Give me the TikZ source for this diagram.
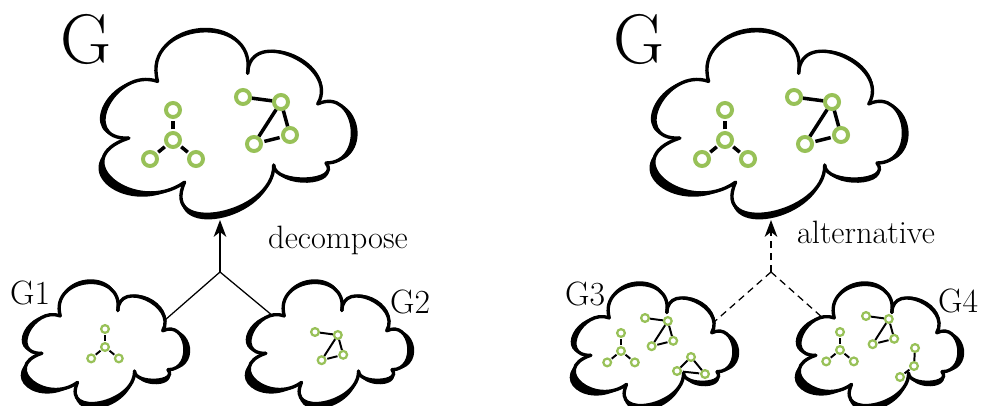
\documentclass[tikz,border=0pt]{standalone}
\usepackage{fontspec}
\usetikzlibrary{arrows.meta,calc}

\definecolor{leaf}{RGB}{152,193,88}

\tikzset{
    vert/.style={circle, draw=leaf, fill=white, line width=2.8pt, minimum size=10pt, inner sep=0pt},
    link/.style={line width=2.5pt, shorten <=1.2pt, shorten >=1.2pt},
    tiny/.style={vert/.append style={line width=1.6pt, minimum size=5.5pt},
                 link/.append style={line width=1.4pt, shorten <=0.6pt, shorten >=0.6pt}},
    cloudline/.style={line width=2.4pt, line cap=round},
    conn/.style={line width=0.9pt},
    small/.style={xscale=0.64, yscale=0.66},
    pics/star/.style={code={
        \node[vert] (-c) at (0,0) {};
        \node[vert] (-t) at (0,-30) {};
        \node[vert] (-l) at (-23,19) {};
        \node[vert] (-r) at (23,19) {};
        \foreach \v in {t,l,r} \draw[link] (-c) -- (-\v);
    }},
    pics/kite/.style={code={
        \node[vert] (-a) at (0,0) {};
        \node[vert] (-b) at (38,5) {};
        \node[vert] (-c) at (47,38) {};
        \node[vert] (-d) at (11,47) {};
        \draw[link] (-a) -- (-b) (-b) -- (-c) (-b) -- (-d) (-c) -- (-d);
    }}
}

% #1 name, #2 centre, #3 size options, #4 brush weight
\newcommand{\drawcloud}[4]{%
    \begin{scope}[shift={#2}, #3]
        \foreach \a/\p/\q/\b/\s in {
            {-41.4,61.2}/{-67,116.2}/{48.9,94}/{47.7,44.1}/{0,7},
            {47.7,44.1}/{48.1,64.4}/{116.1,61.6}/{100,42}/{2,5},
            {100,42}/{141.4,42.3}/{130.7,-34.6}/{91.8,-17.1}/{7,2},
            {91.8,-17.1}/{114.7,-56}/{23.5,-95.8}/{21.6,-47.7}/{3,-2},
            {21.6,-47.7}/{31.6,-110.7}/{-85.4,-100.2}/{-68.4,-39.6}/{0,-4},
            {-68.4,-39.6}/{-111,-54.4}/{-148.5,19.3}/{-97.2,17.1}/{-6,0},
            {-97.2,17.1}/{-162.5,38.3}/{-90,95.6}/{-41.4,61.2}/{-7,7}}
        {
            \fill (\a) .. controls (\p) and (\q) .. (\b)
                .. controls ($(\q)+#4*(\s)$) and ($(\p)+#4*(\s)$) .. (\a) -- cycle;
            \draw[cloudline] (\a) .. controls (\p) and (\q) .. (\b);
        }
        \coordinate (#1-ne) at (95,-33);
        \coordinate (#1-nw) at (-88,-41);
        \coordinate (#1-s) at (-6,99);
    \end{scope}}

\begin{document}
\begin{tikzpicture}[x=0.025cm, y=-0.025cm, >={Stealth[length=12pt, width=9pt, inset=3.5pt]}]
    \useasboundingbox (0,0) rectangle (983,406);

    % clouds
    \drawcloud{gl}{(226,121)}{scale=1}{1}
    \drawcloud{gr}{(777,121)}{scale=1}{1}
    \drawcloud{g1}{(104,342)}{small}{1.6}
    \drawcloud{g2}{(328,342)}{small}{1.6}
    \drawcloud{g3}{(653,344)}{small}{1.6}
    \drawcloud{g4}{(878,344)}{small}{1.6}

    % graphs inside
    \pic (gls) at (173,140) {star};
    \pic (glk) at (243,97) {kite};
    \pic (grs) at (725,140) {star};
    \pic (grk) at (794,97) {kite};
    \pic[tiny, scale=0.6] (g1s) at (105,347) {star};
    \pic[tiny, scale=0.6] (g2k) at (315,332) {kite};
    \pic[tiny, scale=0.6] (g3s) at (621,351) {star};
    \pic[tiny, scale=0.6] (g3k) at (645,318) {kite};
    \pic[tiny, scale=0.6] (g4s) at (840,350) {star};
    \pic[tiny, scale=0.6] (g4k) at (866,316) {kite};
    \begin{scope}[tiny]
        \node[vert] (g3-t) at (691,357) {};
        \node[vert] (g3-l) at (677,371) {};
        \node[vert] (g3-r) at (705,374) {};
        \draw[link] (g3-t) -- (g3-l) (g3-t) -- (g3-r) (g3-l) -- (g3-r);
        \node[vert] (g4-a) at (915,348) {};
        \node[vert] (g4-b) at (914,366) {};
        \node[vert] (g4-c) at (900,377) {};
        \draw[link] (g4-a) -- (g4-b) (g4-b) -- (g4-c);
    \end{scope}

    % connectors
    \path (gl-s) ++(0,52) coordinate (join-l);
    \path (gr-s) ++(0,52) coordinate (join-r);
    \draw[conn, ->] (join-l) -- (gl-s);
    \draw[conn] (join-l) -- (g1-ne);
    \draw[conn] (join-l) -- (g2-nw);
    \draw[conn, dash pattern=on 5pt off 3.5pt, ->] (join-r) -- (gr-s);
    \draw[conn, dash pattern=on 5pt off 3.5pt] (join-r) -- (g3-ne);
    \draw[conn, dash pattern=on 5pt off 3.5pt] (join-r) -- (g4-nw);

    % labels
    \node[font=\fontsize{50}{50}\selectfont, inner sep=0pt] (lbl-gl) at (86,39) {G};
    \node[font=\fontsize{50}{50}\selectfont, inner sep=0pt] (lbl-gr) at (639,39) {G};
    \node[font=\fontsize{24}{24}\selectfont, inner sep=0pt] (lbl-g1) at (30,293) {G1};
    \node[font=\fontsize{24}{24}\selectfont, inner sep=0pt] (lbl-g2) at (410,302) {G2};
    \node[font=\fontsize{24}{24}\selectfont, inner sep=0pt] (lbl-g3) at (585,294) {G3};
    \node[font=\fontsize{24}{24}\selectfont, inner sep=0pt] (lbl-g4) at (958,301) {G4};
    \node[font=\fontsize{23}{23}\selectfont, anchor=base] (lbl-dec) at (338,248) {decompose};
    \node[font=\fontsize{23}{23}\selectfont, anchor=base] (lbl-alt) at (866,243) {alternative};
\end{tikzpicture}
\end{document}
